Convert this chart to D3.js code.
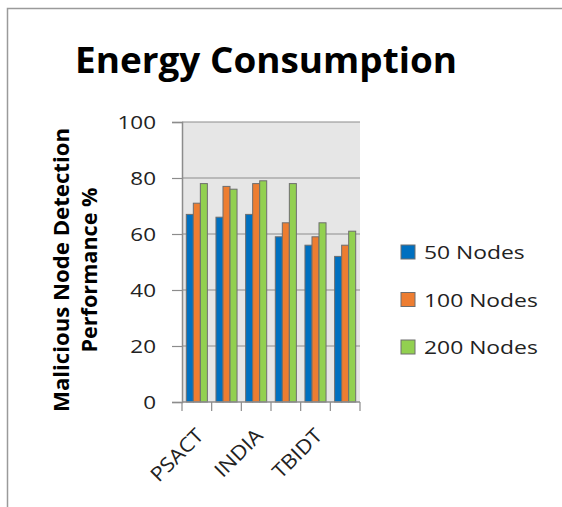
<!DOCTYPE html>
<html>
<head>
<meta charset="utf-8">
<script src="https://cdn.jsdelivr.net/npm/d3@7"></script>
<style>
  body { margin: 0; background: #fff; }
  svg { display: block; }
  text { font-family: "Open Sans", "DejaVu Sans", sans-serif; fill: #1a1a1a; }
</style>
</head>
<body>
<div id="chart"></div>
<script>
/* ----- data ----- */
const categoryLabels = ["PSACT", "", "INDIA", "", "TBIDT", ""];
const seriesNames = ["50 Nodes", "100 Nodes", "200 Nodes"];
const seriesColors = ["#0070C0", "#ED7D31", "#92D050"];
const nodes50 = [67, 66, 67, 59, 56, 52];
const nodes100 = [71, 77, 78, 64, 59, 56];
const nodes200 = [78, 76, 79, 78, 64, 61];
const yTicks = [0, 20, 40, 60, 80, 100];

const seriesValues = [nodes50, nodes100, nodes200];

const width = 562, height = 507;
const plot = { left: 182, right: 360, top: 122, bottom: 402 };

// the original picture is a little wider than tall, so text gets stretched
function stretch(selection, k) {
    selection.each(function () {
        const w = this.getComputedTextLength();
        d3.select(this)
            .attr("textLength", w * k)
            .attr("lengthAdjust", "spacingAndGlyphs");
    });
}

const svg = d3.select("#chart").append("svg")
    .attr("width", width)
    .attr("height", height);

// outer frame (only top and left edges show)
svg.append("path")
    .attr("d", `M7.5,${height} L7.5,8.5 L${width},8.5`)
    .attr("fill", "none")
    .attr("stroke", "#9a9a9a")
    .attr("stroke-width", 1.5);

// title
svg.append("text")
    .attr("x", 266)
    .attr("y", 73)
    .attr("text-anchor", "middle")
    .attr("font-size", 35)
    .attr("font-weight", "bold")
    .attr("textLength", 382)
    .attr("lengthAdjust", "spacingAndGlyphs")
    .style("fill", "#000")
    .text("Energy Consumption");

/* ----- scales ----- */
const x = d3.scaleBand()
    .domain(d3.range(categoryLabels.length))
    .range([plot.left, plot.right])
    .paddingInner(0.29)
    .paddingOuter(0.145);

const xSub = d3.scaleBand()
    .domain(d3.range(seriesNames.length))
    .range([0, x.bandwidth()]);

const y = d3.scaleLinear()
    .domain([0, 100])
    .range([plot.bottom, plot.top]);

// plot background
svg.append("rect")
    .attr("x", plot.left)
    .attr("y", plot.top)
    .attr("width", plot.right - plot.left)
    .attr("height", plot.bottom - plot.top)
    .attr("fill", "#e6e6e6");

// gridlines
svg.append("g")
    .selectAll("line")
    .data(yTicks.filter(t => t > 0))
    .enter()
    .append("line")
    .attr("x1", plot.left)
    .attr("x2", plot.right)
    .attr("y1", d => y(d))
    .attr("y2", d => y(d))
    .attr("stroke", "#8c8c8c")
    .attr("stroke-width", 1.2);

/* ----- bars ----- */
const groups = svg.append("g")
    .selectAll("g")
    .data(categoryLabels.map((c, i) => i))
    .enter()
    .append("g")
    .attr("transform", i => `translate(${x(i)},0)`);

groups.selectAll("rect")
    .data(i => seriesValues.map((vals, s) => ({ s, v: vals[i] })))
    .enter()
    .append("rect")
    .attr("x", d => xSub(d.s))
    .attr("y", d => y(d.v))
    .attr("width", xSub.bandwidth())
    .attr("height", d => y(0) - y(d.v))
    .attr("fill", d => seriesColors[d.s])
    .attr("stroke", "#6e6e6e")
    .attr("stroke-width", 1);

/* ----- axes ----- */
const yAxis = svg.append("g")
    .attr("transform", `translate(${plot.left},0)`)
    .call(d3.axisLeft(y).tickValues(yTicks).tickSize(10).tickPadding(16));
yAxis.select(".domain").attr("stroke", "#8c8c8c").attr("stroke-width", 1.5);
yAxis.selectAll(".tick line").attr("stroke", "#8c8c8c").attr("stroke-width", 1.2);
yAxis.selectAll(".tick text")
    .attr("font-size", 19)
    .attr("font-family", "'Open Sans', sans-serif")
    .style("fill", "#222")
    .call(stretch, 1.18);

// bottom axis: line and boundary ticks
const xAxisG = svg.append("g");
xAxisG.append("line")
    .attr("x1", plot.left).attr("x2", plot.right)
    .attr("y1", plot.bottom).attr("y2", plot.bottom)
    .attr("stroke", "#8c8c8c").attr("stroke-width", 1.5);

const step = x.step();
xAxisG.selectAll("line.tk")
    .data(d3.range(categoryLabels.length + 1))
    .enter()
    .append("line")
    .attr("class", "tk")
    .attr("x1", i => plot.left + i * step)
    .attr("x2", i => plot.left + i * step)
    .attr("y1", plot.bottom)
    .attr("y2", plot.bottom + 9)
    .attr("stroke", "#8c8c8c")
    .attr("stroke-width", 1.2);

xAxisG.selectAll("text")
    .data(categoryLabels.map((c, i) => ({ c, i })).filter(d => d.c))
    .enter()
    .append("text")
    .attr("text-anchor", "end")
    .attr("font-size", 20)
    .attr("transform", d => `translate(${x(d.i) + x.bandwidth() / 2 + 8},${plot.bottom + 35}) rotate(-45)`)
    .style("fill", "#222")
    .text(d => d.c)
    .call(stretch, 1.1);

// y-axis title (two lines)
const yTitle = svg.append("g")
    .attr("transform", "translate(0,270) rotate(-90)");
yTitle.append("text")
    .attr("x", 0).attr("y", 69)
    .attr("text-anchor", "middle")
    .attr("font-size", 21)
    .attr("font-weight", "bold")
    .attr("textLength", 284)
    .attr("lengthAdjust", "spacingAndGlyphs")
    .style("fill", "#000")
    .text("Malicious Node Detection");
yTitle.append("text")
    .attr("x", 0).attr("y", 97)
    .attr("text-anchor", "middle")
    .attr("font-size", 21)
    .attr("font-weight", "bold")
    .attr("textLength", 165)
    .attr("lengthAdjust", "spacingAndGlyphs")
    .style("fill", "#000")
    .text("Performance %");

/* ----- legend ----- */
const legend = svg.append("g")
    .selectAll("g")
    .data(seriesNames)
    .enter()
    .append("g")
    .attr("transform", (d, i) => `translate(401,${252 + i * 47.5})`);

legend.append("rect")
    .attr("x", 0).attr("y", -7)
    .attr("width", 14).attr("height", 14)
    .attr("fill", (d, i) => seriesColors[i])
    .attr("stroke", "#6e6e6e")
    .attr("stroke-width", 1);

legend.append("text")
    .attr("x", 23)
    .attr("y", 7)
    .attr("font-size", 18)
    .style("fill", "#222")
    .text(d => d)
    .call(stretch, 1.27);
</script>
</body>
</html>
